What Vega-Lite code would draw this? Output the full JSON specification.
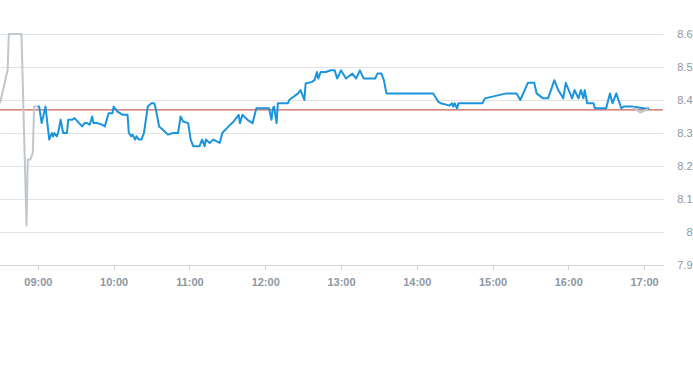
{
  "width": 663,
  "height": 231,
  "autosize": {"type": "none"},
  "padding": {"left": 0, "top": 34, "right": 30, "bottom": 100},
  "background": "white",
  "config": {"view": {"stroke": null}, "font": "Liberation Sans"},
  "layer": [
    {
      "data": {"values": [{"prevClose": 8.37}]},
      "mark": {"type": "rule", "color": "#c0392b", "strokeWidth": 1},
      "encoding": {"y": {"field": "prevClose", "type": "quantitative"}}
    },
    {
      "data": {
        "format": {"parse": {"time": "utc:'%H:%M'"}},
        "values": [
          {"session": "pre", "time": "08:30", "price": 8.39},
          {"session": "pre", "time": "08:36", "price": 8.49},
          {"session": "pre", "time": "08:37", "price": 8.6},
          {"session": "pre", "time": "08:47", "price": 8.6},
          {"session": "pre", "time": "08:51", "price": 8.02},
          {"session": "pre", "time": "08:52", "price": 8.22},
          {"session": "pre", "time": "08:54", "price": 8.22},
          {"session": "pre", "time": "08:56", "price": 8.24},
          {"session": "pre", "time": "08:57", "price": 8.38},
          {"session": "pre", "time": "09:00", "price": 8.38},
          {"session": "main", "time": "09:00", "price": 8.38},
          {"session": "main", "time": "09:01", "price": 8.38},
          {"session": "main", "time": "09:03", "price": 8.33},
          {"session": "main", "time": "09:06", "price": 8.38},
          {"session": "main", "time": "09:09", "price": 8.28},
          {"session": "main", "time": "09:11", "price": 8.3},
          {"session": "main", "time": "09:12", "price": 8.29},
          {"session": "main", "time": "09:13", "price": 8.3},
          {"session": "main", "time": "09:15", "price": 8.29},
          {"session": "main", "time": "09:16", "price": 8.3},
          {"session": "main", "time": "09:18", "price": 8.34},
          {"session": "main", "time": "09:20", "price": 8.3},
          {"session": "main", "time": "09:23", "price": 8.3},
          {"session": "main", "time": "09:24", "price": 8.34},
          {"session": "main", "time": "09:27", "price": 8.34},
          {"session": "main", "time": "09:29", "price": 8.345},
          {"session": "main", "time": "09:35", "price": 8.32},
          {"session": "main", "time": "09:37", "price": 8.33},
          {"session": "main", "time": "09:39", "price": 8.33},
          {"session": "main", "time": "09:41", "price": 8.325},
          {"session": "main", "time": "09:43", "price": 8.35},
          {"session": "main", "time": "09:44", "price": 8.33},
          {"session": "main", "time": "09:47", "price": 8.33},
          {"session": "main", "time": "09:51", "price": 8.325},
          {"session": "main", "time": "09:53", "price": 8.32},
          {"session": "main", "time": "09:56", "price": 8.36},
          {"session": "main", "time": "09:57", "price": 8.36},
          {"session": "main", "time": "09:59", "price": 8.36},
          {"session": "main", "time": "10:00", "price": 8.38},
          {"session": "main", "time": "10:03", "price": 8.365},
          {"session": "main", "time": "10:05", "price": 8.36},
          {"session": "main", "time": "10:07", "price": 8.355},
          {"session": "main", "time": "10:11", "price": 8.355},
          {"session": "main", "time": "10:12", "price": 8.3},
          {"session": "main", "time": "10:14", "price": 8.29},
          {"session": "main", "time": "10:15", "price": 8.295},
          {"session": "main", "time": "10:17", "price": 8.28},
          {"session": "main", "time": "10:18", "price": 8.29},
          {"session": "main", "time": "10:20", "price": 8.28},
          {"session": "main", "time": "10:22", "price": 8.28},
          {"session": "main", "time": "10:24", "price": 8.3},
          {"session": "main", "time": "10:27", "price": 8.38},
          {"session": "main", "time": "10:30", "price": 8.39},
          {"session": "main", "time": "10:32", "price": 8.39},
          {"session": "main", "time": "10:33", "price": 8.38},
          {"session": "main", "time": "10:36", "price": 8.32},
          {"session": "main", "time": "10:39", "price": 8.31},
          {"session": "main", "time": "10:43", "price": 8.295},
          {"session": "main", "time": "10:47", "price": 8.3},
          {"session": "main", "time": "10:51", "price": 8.3},
          {"session": "main", "time": "10:53", "price": 8.35},
          {"session": "main", "time": "10:55", "price": 8.335},
          {"session": "main", "time": "10:59", "price": 8.33},
          {"session": "main", "time": "11:01", "price": 8.28},
          {"session": "main", "time": "11:03", "price": 8.26},
          {"session": "main", "time": "11:08", "price": 8.26},
          {"session": "main", "time": "11:10", "price": 8.28},
          {"session": "main", "time": "11:12", "price": 8.26},
          {"session": "main", "time": "11:13", "price": 8.28},
          {"session": "main", "time": "11:16", "price": 8.27},
          {"session": "main", "time": "11:19", "price": 8.28},
          {"session": "main", "time": "11:24", "price": 8.27},
          {"session": "main", "time": "11:26", "price": 8.3},
          {"session": "main", "time": "11:31", "price": 8.32},
          {"session": "main", "time": "11:35", "price": 8.335},
          {"session": "main", "time": "11:39", "price": 8.355},
          {"session": "main", "time": "11:40", "price": 8.33},
          {"session": "main", "time": "11:42", "price": 8.355},
          {"session": "main", "time": "11:46", "price": 8.34},
          {"session": "main", "time": "11:50", "price": 8.33},
          {"session": "main", "time": "11:53", "price": 8.375},
          {"session": "main", "time": "12:03", "price": 8.375},
          {"session": "main", "time": "12:05", "price": 8.34},
          {"session": "main", "time": "12:06", "price": 8.375},
          {"session": "main", "time": "12:07", "price": 8.38},
          {"session": "main", "time": "12:09", "price": 8.33},
          {"session": "main", "time": "12:10", "price": 8.39},
          {"session": "main", "time": "12:18", "price": 8.39},
          {"session": "main", "time": "12:19", "price": 8.4},
          {"session": "main", "time": "12:26", "price": 8.42},
          {"session": "main", "time": "12:28", "price": 8.43},
          {"session": "main", "time": "12:31", "price": 8.4},
          {"session": "main", "time": "12:32", "price": 8.45},
          {"session": "main", "time": "12:37", "price": 8.455},
          {"session": "main", "time": "12:39", "price": 8.46},
          {"session": "main", "time": "12:41", "price": 8.485},
          {"session": "main", "time": "12:42", "price": 8.465},
          {"session": "main", "time": "12:44", "price": 8.485},
          {"session": "main", "time": "12:48", "price": 8.485},
          {"session": "main", "time": "12:52", "price": 8.49},
          {"session": "main", "time": "12:55", "price": 8.49},
          {"session": "main", "time": "12:57", "price": 8.465},
          {"session": "main", "time": "13:00", "price": 8.49},
          {"session": "main", "time": "13:04", "price": 8.465},
          {"session": "main", "time": "13:09", "price": 8.48},
          {"session": "main", "time": "13:12", "price": 8.465},
          {"session": "main", "time": "13:15", "price": 8.49},
          {"session": "main", "time": "13:18", "price": 8.465},
          {"session": "main", "time": "13:27", "price": 8.465},
          {"session": "main", "time": "13:29", "price": 8.48},
          {"session": "main", "time": "13:32", "price": 8.48},
          {"session": "main", "time": "13:34", "price": 8.46},
          {"session": "main", "time": "13:36", "price": 8.42},
          {"session": "main", "time": "14:13", "price": 8.42},
          {"session": "main", "time": "14:17", "price": 8.395},
          {"session": "main", "time": "14:19", "price": 8.39},
          {"session": "main", "time": "14:26", "price": 8.383},
          {"session": "main", "time": "14:28", "price": 8.39},
          {"session": "main", "time": "14:29", "price": 8.38},
          {"session": "main", "time": "14:30", "price": 8.39},
          {"session": "main", "time": "14:32", "price": 8.374},
          {"session": "main", "time": "14:33", "price": 8.39},
          {"session": "main", "time": "14:52", "price": 8.39},
          {"session": "main", "time": "14:54", "price": 8.405},
          {"session": "main", "time": "15:11", "price": 8.42},
          {"session": "main", "time": "15:19", "price": 8.42},
          {"session": "main", "time": "15:22", "price": 8.4},
          {"session": "main", "time": "15:28", "price": 8.452},
          {"session": "main", "time": "15:33", "price": 8.452},
          {"session": "main", "time": "15:35", "price": 8.42},
          {"session": "main", "time": "15:40", "price": 8.405},
          {"session": "main", "time": "15:44", "price": 8.405},
          {"session": "main", "time": "15:49", "price": 8.46},
          {"session": "main", "time": "15:52", "price": 8.43},
          {"session": "main", "time": "15:56", "price": 8.405},
          {"session": "main", "time": "15:58", "price": 8.452},
          {"session": "main", "time": "16:03", "price": 8.405},
          {"session": "main", "time": "16:05", "price": 8.43},
          {"session": "main", "time": "16:08", "price": 8.405},
          {"session": "main", "time": "16:10", "price": 8.43},
          {"session": "main", "time": "16:12", "price": 8.405},
          {"session": "main", "time": "16:13", "price": 8.43},
          {"session": "main", "time": "16:15", "price": 8.39},
          {"session": "main", "time": "16:20", "price": 8.39},
          {"session": "main", "time": "16:21", "price": 8.375},
          {"session": "main", "time": "16:30", "price": 8.375},
          {"session": "main", "time": "16:33", "price": 8.42},
          {"session": "main", "time": "16:35", "price": 8.39},
          {"session": "main", "time": "16:38", "price": 8.42},
          {"session": "main", "time": "16:42", "price": 8.375},
          {"session": "main", "time": "16:44", "price": 8.38},
          {"session": "main", "time": "16:50", "price": 8.38},
          {"session": "main", "time": "16:54", "price": 8.378},
          {"session": "main", "time": "17:00", "price": 8.375},
          {"session": "main", "time": "17:04", "price": 8.374},
          {"session": "post", "time": "16:51", "price": 8.378},
          {"session": "post", "time": "16:57", "price": 8.362},
          {"session": "post", "time": "17:03", "price": 8.372}
        ]
      },
      "mark": {"type": "line", "strokeWidth": 2, "strokeJoin": "round", "clip": false},
      "encoding": {
        "x": {
          "field": "time",
          "type": "temporal",
          "scale": {
            "type": "utc",
            "nice": false,
            "domain": [
              {"year": 1900, "month": 1, "date": 1, "hours": 8, "minutes": 30, "utc": true},
              {"year": 1900, "month": 1, "date": 1, "hours": 17, "minutes": 15, "utc": true}
            ]
          },
          "axis": {
            "title": null,
            "format": "%H:%M",
            "tickCount": 30,
            "values": [
              {"year": 1900, "month": 1, "date": 1, "hours": 9, "utc": true},
              {"year": 1900, "month": 1, "date": 1, "hours": 10, "utc": true},
              {"year": 1900, "month": 1, "date": 1, "hours": 11, "utc": true},
              {"year": 1900, "month": 1, "date": 1, "hours": 12, "utc": true},
              {"year": 1900, "month": 1, "date": 1, "hours": 13, "utc": true},
              {"year": 1900, "month": 1, "date": 1, "hours": 14, "utc": true},
              {"year": 1900, "month": 1, "date": 1, "hours": 15, "utc": true},
              {"year": 1900, "month": 1, "date": 1, "hours": 16, "utc": true},
              {"year": 1900, "month": 1, "date": 1, "hours": 17, "utc": true}
            ],
            "grid": false,
            "domainColor": "#d6d6d6",
            "tickColor": "#d6d6d6",
            "tickSize": 5,
            "labelPadding": 6,
            "labelColor": "#8c97a2",
            "labelFontSize": 11,
            "labelFontWeight": "bold",
            "labelFont": "Liberation Sans",
            "labelOverlap": false
          }
        },
        "y": {
          "field": "price",
          "type": "quantitative",
          "scale": {"domain": [7.9, 8.6], "nice": false, "zero": false},
          "axis": {
            "orient": "right",
            "title": null,
            "tickCount": 30,
            "values": [7.9, 8, 8.1, 8.2, 8.3, 8.4, 8.5, 8.6],
            "format": ".1~f",
            "domain": false,
            "ticks": false,
            "gridColor": "#e3e3e3",
            "labelAlign": "right",
            "labelBaseline": "middle",
            "labelPadding": 29,
            "labelColor": "#8c97a2",
            "labelFontSize": 11,
            "labelFont": "Liberation Sans",
            "labelOverlap": false,
            "labelFlush": false
          }
        },
        "color": {
          "field": "session",
          "type": "nominal",
          "scale": {"domain": ["pre", "main", "post"], "range": ["#bfc7cf", "#1a94dc", "#bfc7cf"]},
          "legend": null
        },
        "detail": {"field": "session", "type": "nominal"}
      }
    }
  ]
}
